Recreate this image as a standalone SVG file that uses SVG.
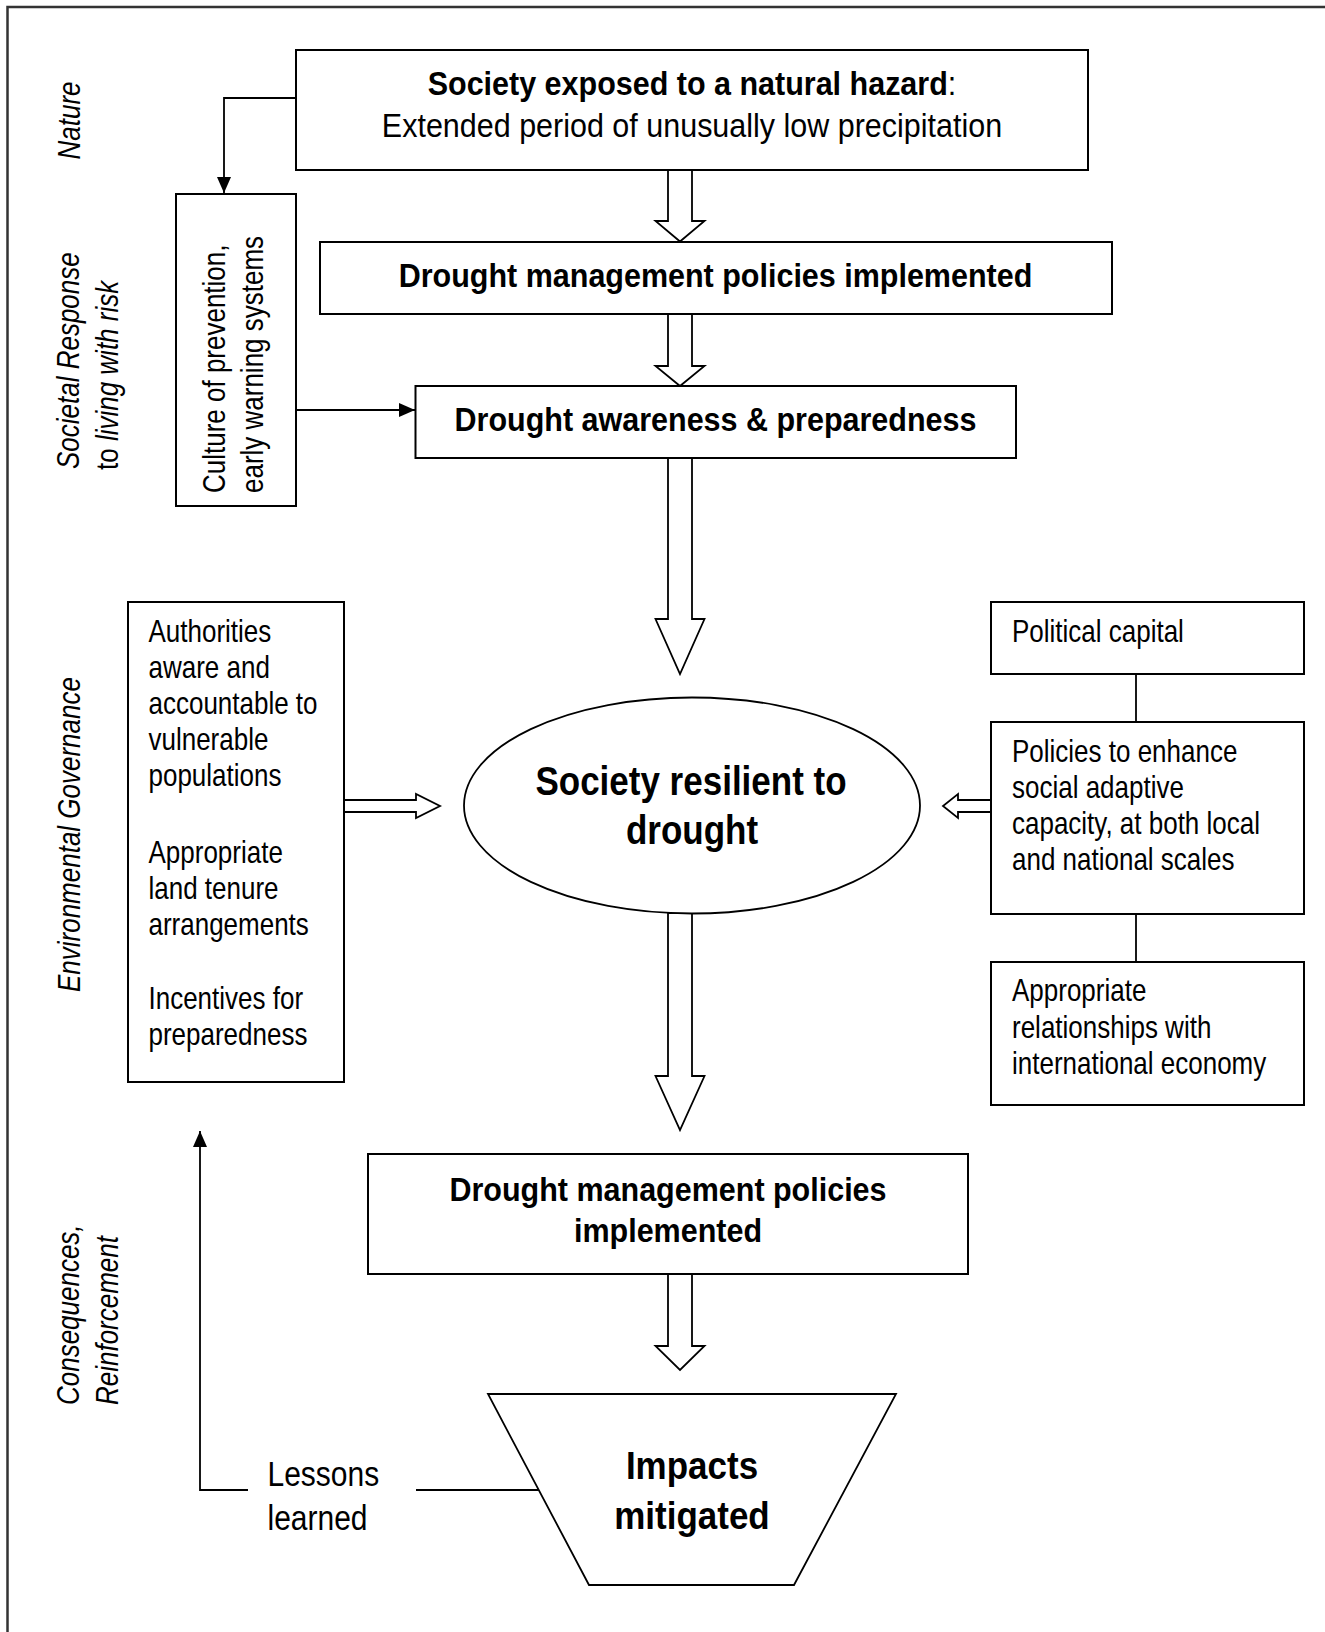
<svg xmlns="http://www.w3.org/2000/svg" width="1325" height="1632" viewBox="0 0 1325 1632">
<style>
  text{font-family:"Liberation Sans",Arial,Helvetica,sans-serif;fill:#000}
  .box{fill:#fff;stroke:#000;stroke-width:2}
  .shape{fill:#fff;stroke:#000;stroke-width:1.8}
  .b{font-weight:bold;font-size:30.5px;text-anchor:middle}
  .r{font-size:30.5px;text-anchor:middle}
  .big{font-weight:bold;font-size:35px;text-anchor:middle}
  .t{font-size:26px}
  .side{font-size:26px;font-style:italic}
  .up{font-style:normal}
  .line{fill:none;stroke:#000;stroke-width:1.8}
  .hollow{fill:#fff;stroke:#000;stroke-width:1.8;stroke-linejoin:miter}
  .frame{fill:none;stroke:#333;stroke-width:2.5}
</style>
<defs>
  <marker id="ah" viewBox="0 0 16 14" refX="16" refY="7" markerWidth="16" markerHeight="14" markerUnits="userSpaceOnUse" orient="auto">
    <path d="M0,0 L16,7 L0,14 z" fill="#000"/>
  </marker>
</defs>

<path class="frame" d="M7.5 1632 V7 H1325"/>

<g id="side-labels">
  <text class="side" text-anchor="middle" transform="translate(80,120.5) rotate(-90) scale(1,1.18)">Nature</text>
  <text class="side" transform="translate(79,469) rotate(-90) scale(1,1.18)">Societal Response</text>
  <text class="side" transform="translate(118,470) rotate(-90) scale(1,1.18)"><tspan class="up">to</tspan> living with risk</text>
  <text class="side" transform="translate(80,992) rotate(-90) scale(1,1.18)">Environmental Governance</text>
  <text class="side" transform="translate(79,1405) rotate(-90) scale(1,1.18)">Consequences,</text>
  <text class="side" transform="translate(118,1405) rotate(-90) scale(1,1.18)">Reinforcement</text>
</g>

<g id="connectors">
  <path class="line" d="M296 98 H224 V193" marker-end="url(#ah)"/>
  <path class="line" d="M296 410 H415" marker-end="url(#ah)"/>
  <path class="line" d="M248 1490 H200 V1131" marker-end="url(#ah)"/>
  <path class="line" d="M416 1490 H539"/>
  <path class="line" d="M1136 674 V722"/>
  <path class="line" d="M1136 914 V962"/>
  <polygon class="hollow" points="668,170 668,221 655.5,221 680,241.5 704.5,221 692,221 692,170"/>
  <polygon class="hollow" points="668,314 668,366 655.5,366 680,386 704.5,366 692,366 692,314"/>
  <polygon class="hollow" points="668,458 668,619 655.5,619 680,674 704.5,619 692,619 692,458"/>
  <polygon class="hollow" points="668,913 668,1076 655.5,1076 680,1130 704.5,1076 692,1076 692,913"/>
  <polygon class="hollow" points="668,1274 668,1346 655.5,1346 680,1370 704.5,1346 692,1346 692,1274"/>
  <polygon class="hollow" points="344,800 416,800 416,794 440,806 416,818 416,812 344,812"/>
  <polygon class="hollow" points="991,800 958,800 958,794 943,806 958,818 958,812 991,812"/>
</g>

<g id="hazard">
  <rect class="box" x="296" y="50" width="792" height="120"/>
  <text class="b" transform="translate(692,95) scale(1,1.1)">Society exposed to a natural hazard<tspan font-weight="normal">:</tspan></text>
  <text class="r" transform="translate(692,137) scale(1,1.1)">Extended period of unusually low precipitation</text>
</g>

<g id="policies-1">
  <rect class="box" x="320" y="242" width="792" height="72"/>
  <text class="b" transform="translate(715.5,287) scale(1,1.1)">Drought management policies implemented</text>
</g>

<g id="awareness">
  <rect class="box" x="415.5" y="386" width="600.5" height="72"/>
  <text class="b" transform="translate(715.5,430.5) scale(1,1.1)">Drought awareness &amp; preparedness</text>
</g>

<g id="culture">
  <rect class="box" x="176" y="194" width="120" height="312"/>
  <text class="t" transform="translate(225,493) rotate(-90) scale(1,1.18)">Culture of prevention,</text>
  <text class="t" transform="translate(263,493) rotate(-90) scale(1,1.18)">early warning systems</text>
</g>

<g id="governance">
  <rect class="box" x="128" y="602" width="216" height="480"/>
  <text class="t" transform="translate(148.5,642) scale(1,1.18)">Authorities</text>
  <text class="t" transform="translate(148.5,678) scale(1,1.18)">aware and</text>
  <text class="t" transform="translate(148.5,714) scale(1,1.18)">accountable to</text>
  <text class="t" transform="translate(148.5,750) scale(1,1.18)">vulnerable</text>
  <text class="t" transform="translate(148.5,786) scale(1,1.18)">populations</text>
  <text class="t" transform="translate(148.5,863) scale(1,1.18)">Appropriate</text>
  <text class="t" transform="translate(148.5,899) scale(1,1.18)">land tenure</text>
  <text class="t" transform="translate(148.5,935) scale(1,1.18)">arrangements</text>
  <text class="t" transform="translate(148.5,1009) scale(1,1.18)">Incentives for</text>
  <text class="t" transform="translate(148.5,1045) scale(1,1.18)">preparedness</text>
</g>

<g id="resilient">
  <ellipse class="shape" cx="692" cy="805.5" rx="228" ry="108"/>
  <text class="big" transform="translate(691,794.5) scale(1,1.15)">Society resilient to</text>
  <text class="big" transform="translate(692,843.5) scale(1,1.15)">drought</text>
</g>

<g id="political-capital">
  <rect class="box" x="991" y="602" width="313" height="72"/>
  <text class="t" transform="translate(1012,642) scale(1,1.18)">Political capital</text>
</g>

<g id="adaptive-policies">
  <rect class="box" x="991" y="722" width="313" height="192"/>
  <text class="t" transform="translate(1012,762) scale(1,1.18)">Policies to enhance</text>
  <text class="t" transform="translate(1012,798) scale(1,1.18)">social adaptive</text>
  <text class="t" transform="translate(1012,834) scale(1,1.18)">capacity, at both local</text>
  <text class="t" transform="translate(1012,870) scale(1,1.18)">and national scales</text>
</g>

<g id="international">
  <rect class="box" x="991" y="962" width="313" height="143"/>
  <text class="t" transform="translate(1012,1001) scale(1,1.18)">Appropriate</text>
  <text class="t" transform="translate(1012,1037.5) scale(1,1.18)">relationships with</text>
  <text class="t" transform="translate(1012,1074) scale(1,1.18)">international economy</text>
</g>

<g id="policies-2">
  <rect class="box" x="368" y="1154" width="600" height="120"/>
  <text class="b" transform="translate(668,1200.5) scale(1,1.1)">Drought management policies</text>
  <text class="b" transform="translate(668,1241.5) scale(1,1.1)">implemented</text>
</g>

<g id="impacts">
  <polygon class="shape" points="488,1394 896,1394 794,1585 589,1585"/>
  <text class="big" transform="translate(692,1478.5) scale(1,1.12)">Impacts</text>
  <text class="big" transform="translate(692,1528.5) scale(1,1.12)">mitigated</text>
</g>

<g id="lessons">
  <text style="font-size:30px" transform="translate(267.5,1485.5) scale(1,1.14)">Lessons</text>
  <text style="font-size:30px" transform="translate(267.5,1529.5) scale(1,1.14)">learned</text>
</g>
</svg>
